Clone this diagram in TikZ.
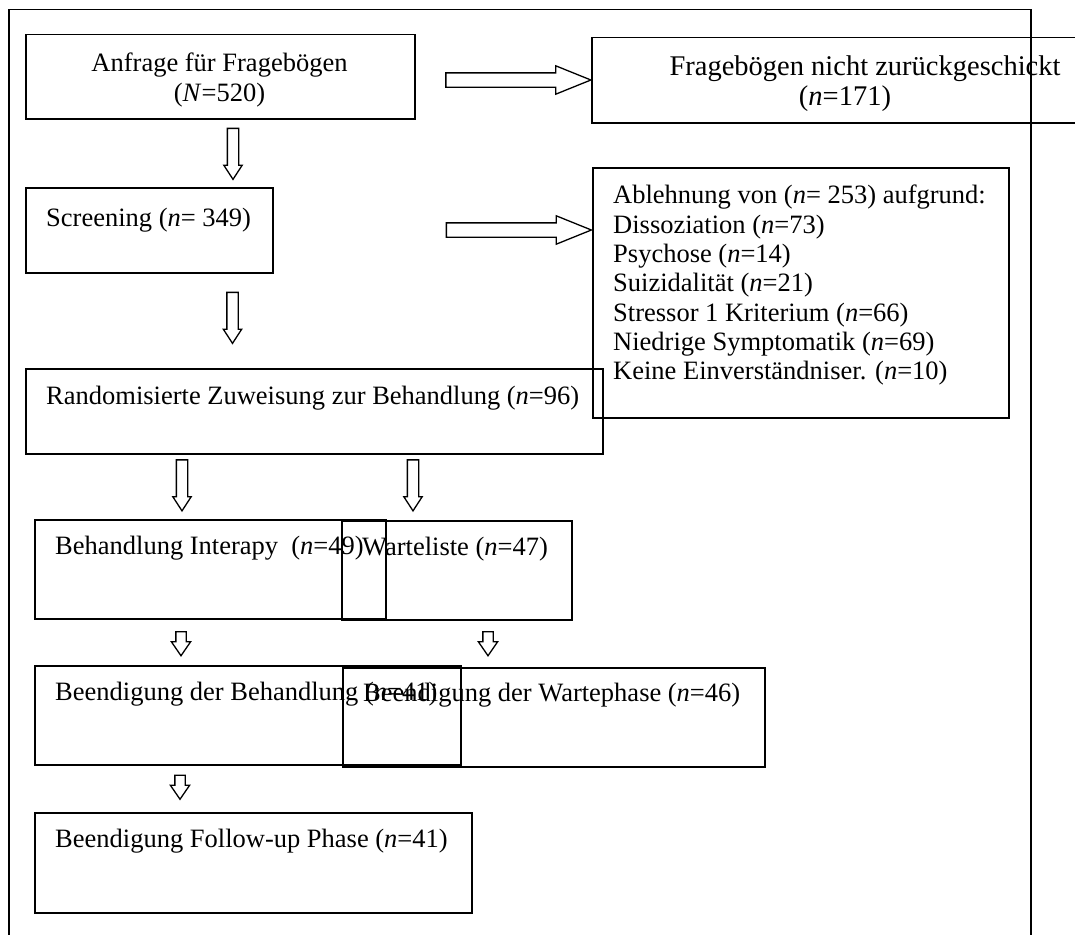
\documentclass[tikz,border=0pt]{standalone}
\usepackage{fontspec}
\setmainfont{Liberation Serif}
\usetikzlibrary{shapes.arrows}

\begin{document}
\begin{tikzpicture}[x=1pt,y=-1pt]
\tikzstyle{box} = [draw=black, line width=1.5pt, rectangle, anchor=north west, inner sep=0pt]
\tikzstyle{txt} = [inner sep=0pt, font=\fontsize{26.5pt}{29.3pt}\selectfont]
\tikzstyle{blockarrow} = [draw=black, line width=1.3pt, single arrow, inner xsep=0pt, minimum width=0pt]
\tikzstyle{down} = [blockarrow, rotate=-90, minimum height=51pt, inner ysep=5pt, single arrow head extend=3.5pt, single arrow tip angle=66]
\tikzstyle{shortdown} = [blockarrow, rotate=-90, minimum height=24pt, inner ysep=4.5pt, single arrow head extend=4.5pt, single arrow tip angle=69]
\tikzstyle{sidearrow} = [blockarrow, minimum height=145pt, inner ysep=6.5pt, single arrow head extend=7pt, single arrow tip angle=44]

\clip (0,0) rectangle (1075,934);

\node[box, minimum width=1022pt, minimum height=1000pt] (frame) at (8,9) {};

\node[box, minimum width=389pt, minimum height=84pt] (anfrage) at (25,34) {};
\node[box, minimum width=510pt, minimum height=85pt] (frage) at (591,37) {};
\node[box, minimum width=247pt, minimum height=85pt] (screen) at (25,187) {};
\node[box, minimum width=416pt, minimum height=250pt] (ablehn) at (592,167) {};
\node[box, minimum width=577pt, minimum height=85pt] (random) at (25,368) {};
\node[box, minimum width=351pt, minimum height=99pt] (interapy) at (34,519) {};
\node[box, minimum width=230pt, minimum height=99pt] (warte) at (341,520) {};
\node[box, minimum width=426pt, minimum height=99pt] (endbeh) at (34,665) {};
\node[box, minimum width=422pt, minimum height=99pt] (endwarte) at (342,667) {};
\node[box, minimum width=437pt, minimum height=100pt] (followup) at (34,812) {};

\node[txt, align=center, anchor=north] (tanfrage) at (219.5,53) {Anfrage für Fragebögen\\(\textit{N}=520)};
\node[txt, font=\fontsize{28.5pt}{29.3pt}\selectfont, align=center, anchor=north] (tfrage) at (865,56) {Fragebögen nicht zurückgeschickt\\(\textit{n}=171)\hspace*{40pt}};
\node[txt, anchor=base west] (tscreen) at (46,226) {Screening (\textit{n}= 349)};
\node[txt, align=left, anchor=north west] (tablehn) at (613,185) {Ablehnung von (\textit{n}= 253) aufgrund:\\Dissoziation (\textit{n}=73)\\Psychose (\textit{n}=14)\\Suizidalität (\textit{n}=21)\\Stressor 1 Kriterium (\textit{n}=66)\\Niedrige Symptomatik (\textit{n}=69)\\Keine Einverständniser. (\textit{n}=10)};
\node[txt, anchor=base west] (trandom) at (46,404) {Randomisierte Zuweisung zur Behandlung (\textit{n}=96)};
\node[txt, anchor=base west] (tinterapy) at (55,554) {Behandlung Interapy~ (\textit{n}=49)};
\node[txt, anchor=base west] (twarte) at (362,555) {Warteliste (\textit{n}=47)};
\node[txt, anchor=base west] (tendbeh) at (55,700) {Beendigung der Behandlung (\textit{n}=41)};
\node[txt, anchor=base west] (tendwarte) at (363,701) {Beendigung der Wartephase (\textit{n}=46)};
\node[txt, anchor=base west] (tfollowup) at (55,847) {Beendigung Follow-up Phase (\textit{n}=41)};

\node[sidearrow] (arr1) at (509.5,80) {};
\node[sidearrow] (arr2) at (510,230) {};
\node[down] (arr3) at (233,149.5) {};
\node[down] (arr4) at (232.5,313.5) {};
\node[down] (arr5) at (182,481) {};
\node[down] (arr6) at (413,481) {};
\node[shortdown] (arr7) at (181,640) {};
\node[shortdown] (arr8) at (488,640) {};
\node[shortdown] (arr9) at (180,783.5) {};
\end{tikzpicture}
\end{document}
